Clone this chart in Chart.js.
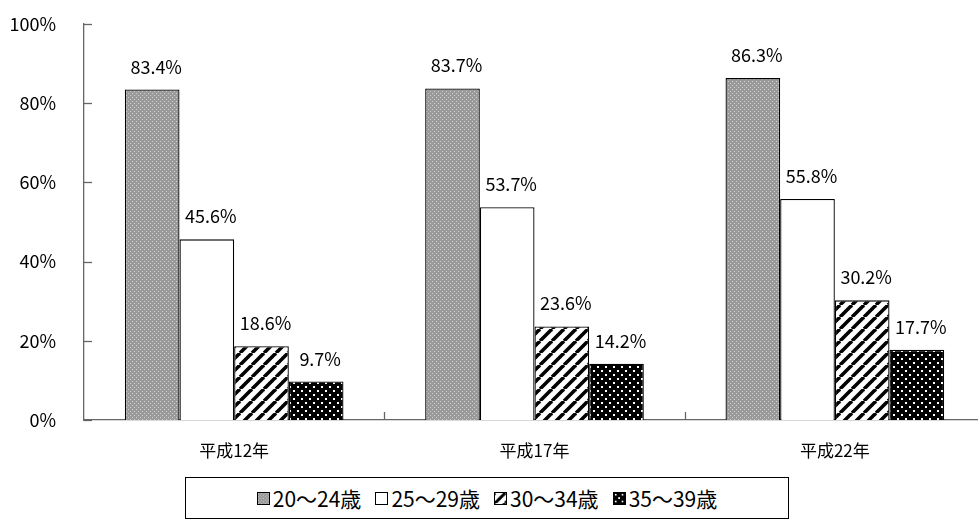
<!DOCTYPE html>
<html><head><meta charset="utf-8">
<script src="https://cdn.jsdelivr.net/npm/chart.js@4/dist/chart.umd.min.js"></script>
<style>
body{margin:0;background:#fff;width:978px;height:529px;overflow:hidden;font-family:"Noto Sans CJK JP",sans-serif;position:relative}
#wrap{position:absolute;left:0;top:-7px;width:985px;height:477px}
#legend{position:absolute;left:185px;top:477px;width:604px;height:42px;border:1px solid #000;box-sizing:border-box;display:flex;align-items:center;justify-content:center;font-size:21px;gap:14px}
#legend span{display:flex;align-items:center}
#legend canvas{width:13px;height:13px;margin-right:3px;border:1px solid #000;box-sizing:border-box}
</style></head><body>
<div id="wrap"><canvas id="c"></canvas></div>
<div id="legend"></div>
<script>
const categories=["平成12年","平成17年","平成22年"];
const seriesNames=["20～24歳","25～29歳","30～34歳","35～39歳"];
const s1=[83.4,83.7,86.3];
const s2=[45.6,53.7,55.8];
const s3=[18.6,23.6,30.2];
const s4=[9.7,14.2,17.7];
const yTicks=[0,20,40,60,80,100];

function pat(kind){
  const c=document.createElement('canvas');const x=c.getContext('2d');
  if(kind==='gray'){c.width=c.height=4;x.fillStyle='#9a9a9a';x.fillRect(0,0,4,4);x.fillStyle='#d0d0d0';x.fillRect(0,0,1,1);x.fillRect(2,2,1,1);}
  else if(kind==='white'){c.width=c.height=4;x.fillStyle='#fff';x.fillRect(0,0,4,4);}
  else if(kind==='hatch'){c.width=c.height=12;x.fillStyle='#fff';x.fillRect(0,0,12,12);x.strokeStyle='#000';x.lineWidth=3.5;
    for(let o=-12;o<=24;o+=12){x.beginPath();x.moveTo(o,12);x.lineTo(o+12,0);x.stroke();}}
  else {c.width=c.height=8;x.fillStyle='#000';x.fillRect(0,0,8,8);x.fillStyle='#fff';x.fillRect(1,1,2,2);x.fillRect(5,5,2,2);}
  return {canvas:c,pattern:document.getElementById('c').getContext('2d').createPattern(c,'repeat')};
}
const kinds=['gray','white','hatch','dots'];
const pats=kinds.map(pat);
const data=[s1,s2,s3,s4];

const lg=document.getElementById('legend');
seriesNames.forEach((n,i)=>{const sp=document.createElement('span');const cv=document.createElement('canvas');cv.width=13;cv.height=13;
  const g=cv.getContext('2d');g.fillStyle=g.createPattern(pats[i].canvas,'repeat');g.fillRect(0,0,13,13);sp.appendChild(cv);sp.appendChild(document.createTextNode(n));lg.appendChild(sp);});

const labelPlugin={id:'lbl',afterDatasetsDraw(ch){const g=ch.ctx;g.save();g.font='18px "Noto Sans CJK JP"';g.fillStyle='#000';g.textAlign='center';g.textBaseline='alphabetic';
  ch.data.datasets.forEach((d,i)=>{ch.getDatasetMeta(i).data.forEach((b,j)=>{g.fillText(d.data[j].toFixed(1)+'%',b.x+4,b.y-16);});});
  const ys=ch.scales.y, xs=ch.scales.x, L=ch.chartArea.left, B=ch.chartArea.bottom;
  g.strokeStyle='#666';g.lineWidth=1.3;
  yTicks.forEach(v=>{const y=Math.round(ys.getPixelForValue(v))+0.5;g.beginPath();g.moveTo(L,y);g.lineTo(L+8,y);g.stroke();});
  const w=(xs.right-xs.left)/categories.length;
  for(let k=1;k<categories.length;k++){const x=Math.round(xs.left+k*w)+0.5;g.beginPath();g.moveTo(x,B);g.lineTo(x,B-8);g.stroke();}
  g.restore();}};

new Chart(document.getElementById('c'),{type:'bar',
 data:{labels:categories,datasets:data.map((d,i)=>({label:seriesNames[i],data:d,backgroundColor:pats[i].pattern,borderColor:'#000',borderWidth:1.3,categoryPercentage:0.728,barPercentage:1}))},
 options:{responsive:true,maintainAspectRatio:false,animation:false,devicePixelRatio:1,
  layout:{padding:{top:10,right:0,left:0,bottom:0}},
  plugins:{legend:{display:false},tooltip:{enabled:false}},
  scales:{
   x:{grid:{display:false},border:{color:'#666',width:1.3},
      ticks:{color:'#000',font:{family:'"Noto Sans CJK JP"',size:17},padding:12},afterFit(s){s.height=50;}},
   y:{min:0,max:100,grid:{display:false},border:{color:'#666',width:1.3},
      afterBuildTicks(s){s.ticks=yTicks.map(v=>({value:v}));},
      ticks:{color:'#000',font:{family:'"Noto Sans CJK JP"',size:18},callback:v=>v+'%',padding:20},afterFit(s){s.width=84;}}
  }},
 plugins:[labelPlugin]});
</script></body></html>
